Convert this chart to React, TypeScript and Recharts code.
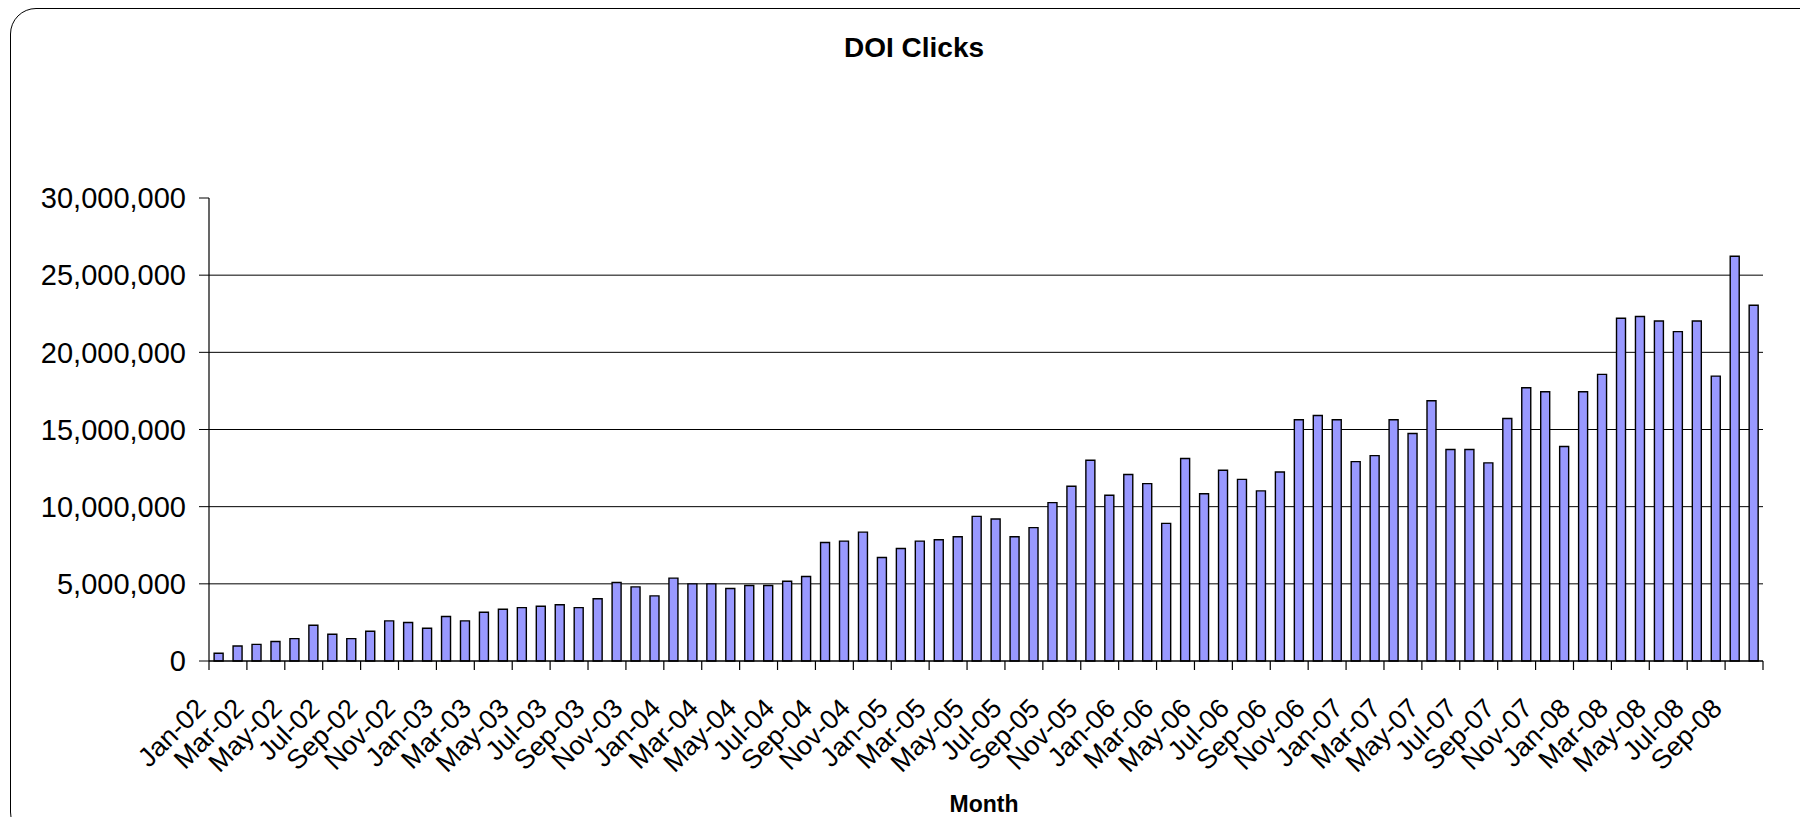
import React from "react";
import { BarChart, Bar, XAxis, YAxis, CartesianGrid } from "recharts";

// month labels, Jan-02 .. Oct-08
const months = [
  "Jan-02", "Feb-02", "Mar-02", "Apr-02", "May-02", "Jun-02", "Jul-02", "Aug-02", "Sep-02", "Oct-02", "Nov-02", "Dec-02",
  "Jan-03", "Feb-03", "Mar-03", "Apr-03", "May-03", "Jun-03", "Jul-03", "Aug-03", "Sep-03", "Oct-03", "Nov-03", "Dec-03",
  "Jan-04", "Feb-04", "Mar-04", "Apr-04", "May-04", "Jun-04", "Jul-04", "Aug-04", "Sep-04", "Oct-04", "Nov-04", "Dec-04",
  "Jan-05", "Feb-05", "Mar-05", "Apr-05", "May-05", "Jun-05", "Jul-05", "Aug-05", "Sep-05", "Oct-05", "Nov-05", "Dec-05",
  "Jan-06", "Feb-06", "Mar-06", "Apr-06", "May-06", "Jun-06", "Jul-06", "Aug-06", "Sep-06", "Oct-06", "Nov-06", "Dec-06",
  "Jan-07", "Feb-07", "Mar-07", "Apr-07", "May-07", "Jun-07", "Jul-07", "Aug-07", "Sep-07", "Oct-07", "Nov-07", "Dec-07",
  "Jan-08", "Feb-08", "Mar-08", "Apr-08", "May-08", "Jun-08", "Jul-08", "Aug-08", "Sep-08", "Oct-08",
];

// clicks per month
const clicks = [
  500000, 970000, 1080000, 1260000, 1450000, 2320000, 1730000, 1450000, 1930000, 2600000, 2490000, 2120000,
  2880000, 2600000, 3160000, 3350000, 3460000, 3550000, 3640000, 3460000, 4030000, 5090000, 4800000, 4220000,
  5370000, 5000000, 5000000, 4700000, 4890000, 4890000, 5170000, 5480000, 7680000, 7770000, 8350000, 6710000,
  7290000, 7770000, 7860000, 8050000, 9370000, 9200000, 8050000, 8640000, 10260000, 11320000, 13010000, 10740000,
  12080000, 11490000, 8920000, 13120000, 10840000, 12360000, 11770000, 11020000, 12250000, 15630000, 15910000, 15630000,
  12920000, 13310000, 15630000, 14740000, 16860000, 13700000, 13700000, 12840000, 15710000, 17710000, 17450000, 13900000,
  17450000, 18570000, 22210000, 22320000, 22030000, 21340000, 22030000, 18460000, 26230000, 23050000,
];

const yTicks = [0, 5000000, 10000000, 15000000, 20000000, 25000000, 30000000];
const gridValues = [5000000, 10000000, 15000000, 20000000, 25000000];

const data = months.map((m, i) => ({ month: m, clicks: clicks[i] }));

const FONT = "'Liberation Sans', Arial, sans-serif";
const W = 1800;
const H = 817;
const margin = { top: 190, right: 45, bottom: 44, left: 1 };
const Y_AXIS_W = 200;
const X_AXIS_H = 120;
const BAND = (W - margin.left - margin.right - Y_AXIS_W) / months.length;

function MonthTick(props: any) {
  const { x, y, index, payload } = props;
  const half = BAND / 2;
  const labelled = index % 2 === 0;
  const last = index === months.length - 1;
  return (
    <g>
      {labelled && (
        <line x1={x - half} x2={x - half} y1={y} y2={y + 9} stroke="#000" strokeWidth={1.2} />
      )}
      {last && (
        <line x1={x + half} x2={x + half} y1={y} y2={y + 9} stroke="#000" strokeWidth={1.2} />
      )}
      {labelled && (
        <text
          x={0}
          y={0}
          transform={`translate(${x - 11},${y + 49}) rotate(-45)`}
          textAnchor="end"
          fontSize={27}
          fontFamily={FONT}
          fill="#000"
        >
          {payload.value}
        </text>
      )}
    </g>
  );
}

export default function App() {
  return (
    <div
      style={{
        position: "relative",
        width: W,
        height: H,
        overflow: "hidden",
        marginBottom: -8,
        fontFamily: FONT,
        background: "#fff",
      }}
    >
      <div
        style={{
          position: "absolute",
          left: 2,
          top: 0,
          width: 1830,
          height: 830,
          border: "1.5px solid #000",
          borderRadius: 26,
          boxSizing: "border-box",
        }}
      />
      <div
        style={{
          position: "absolute",
          left: 0,
          top: 26,
          width: 1812,
          textAlign: "center",
          fontWeight: "bold",
          fontSize: 28,
          lineHeight: "28px",
        }}
      >
        DOI Clicks
      </div>
      <div
        style={{
          position: "absolute",
          left: 876,
          top: 785,
          width: 200,
          textAlign: "center",
          fontWeight: "bold",
          fontSize: 23,
          lineHeight: "23px",
        }}
      >
        Month
      </div>
      <div style={{ position: "absolute", left: 0, top: 0 }}>
        <BarChart width={W} height={H} data={data} margin={margin} barCategoryGap="27%">
          <CartesianGrid vertical={false} stroke="#000" horizontalValues={gridValues} />
          <XAxis
            dataKey="month"
            interval={0}
            height={X_AXIS_H}
            tickLine={false}
            tickSize={0}
            tickMargin={0}
            axisLine={{ stroke: "#000", strokeWidth: 1.5 }}
            tick={<MonthTick />}
          />
          <XAxis
            xAxisId="top"
            dataKey="month"
            orientation="top"
            height={0}
            tick={false}
            tickLine={false}
            axisLine={{ stroke: "#808080", strokeWidth: 1.5 }}
          />
          <YAxis
            width={Y_AXIS_W}
            domain={[0, 30000000]}
            ticks={yTicks}
            interval={0}
            tickSize={10}
            tickMargin={13}
            tickFormatter={(v: number) => v.toLocaleString("en-US")}
            tick={{ fontSize: 29, fill: "#000", fontFamily: FONT }}
            tickLine={{ stroke: "#000" }}
            axisLine={{ stroke: "#000", strokeWidth: 1.2 }}
          />
          <YAxis
            yAxisId="right"
            orientation="right"
            width={0}
            domain={[0, 30000000]}
            tick={false}
            tickLine={false}
            axisLine={{ stroke: "#808080", strokeWidth: 1.5 }}
          />
          <Bar
            dataKey="clicks"
            fill="#9999FF"
            stroke="#000"
            strokeWidth={1.4}
            isAnimationActive={false}
          />
        </BarChart>
      </div>
    </div>
  );
}
